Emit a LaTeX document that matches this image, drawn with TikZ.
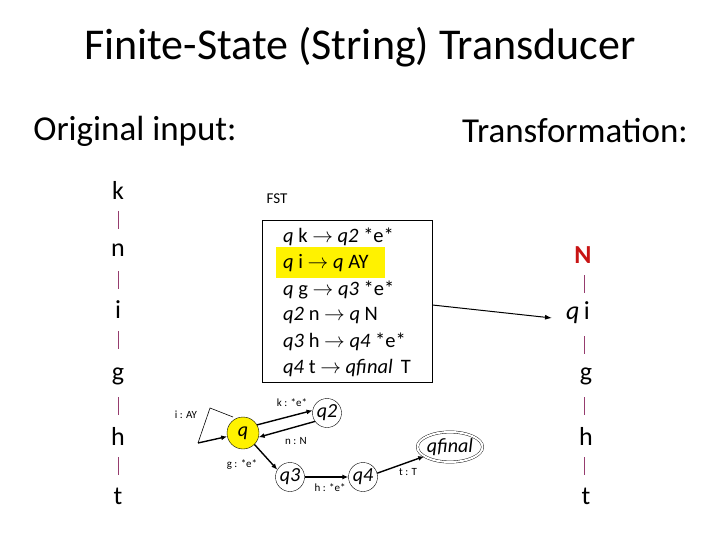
\documentclass[tikz,border=0pt]{standalone}
\usepackage{fontspec}
\setmainfont{Carlito}
\usetikzlibrary{arrows.meta,shapes.geometric}
\definecolor{hl}{RGB}{255,242,0}
\definecolor{barc}{RGB}{150,60,110}
\definecolor{nred}{RGB}{200,20,20}
\begin{document}
\begin{tikzpicture}[x=1pt,y=-1pt,
  lt/.style={font=\fontsize{26}{28}\selectfont},
  rule/.style={font=\fontsize{20.5}{22}\selectfont,anchor=west,inner sep=0},
  st/.style={draw,circle,minimum size=29pt,inner sep=0,font=\fontsize{20}{20}\selectfont\itshape},
  lab/.style={font=\fontsize{11}{12}\selectfont},
  ar/.style={-{Latex[length=6pt,width=5pt]},line width=1.4pt},
  bar/.style={barc,line width=0.6pt}]
\useasboundingbox (0,0) rectangle (720,540);
\node (title) at (360,47) {\fontsize{44}{48}\selectfont Finite-State (String) Transducer};
\node (orig) at (135,131) {\fontsize{35}{40}\selectfont Original input:};
\node (trans) at (575,131) {\fontsize{35}{40}\selectfont Transformation:};
% left column
\foreach \t/\y/\n in {k/190/l1,n/250/l2,i/310/l3,g/376/l4,h/436/l5,t/496/l6}
  \node[lt] (\n) at (118,\y) {\t};
\foreach \y in {220,280,340,406,466} \draw[bar] (118,\y-9) -- (118,\y+9);
% right column
\node[lt,text=nred,font=\fontsize{26}{28}\selectfont\bfseries] (r1) at (583,255) {N};
\node[lt] (r2) at (578,313) {\textit{q}\,i};
\node[lt] (r3) at (586,376) {g};
\node[lt] (r4) at (586,436) {h};
\node[lt] (r5) at (586,496) {t};
\foreach \y in {284,345,406,466} \draw[bar] (584,\y-9) -- (584,\y+9);
% FST box
\node[font=\fontsize{15}{16}\selectfont] (fst) at (277,199) {FST};
\fill[hl] (276,247) rectangle (385,278);
\node[draw,minimum width=170pt,minimum height=162pt,line width=0.8pt] (box) at (347,301) {};
\node[rule] (r1l) at (283,237) {\textit{q} k $\rightarrow$ \textit{q2} *e*};
\node[rule] (r2l) at (283,263) {\textit{q} i $\rightarrow$ \textit{q} AY};
\node[rule] (r3l) at (283,290) {\textit{q} g $\rightarrow$ \textit{q3} *e*};
\node[rule] (r4l) at (283,316) {\textit{q2} n $\rightarrow$ \textit{q} N};
\node[rule] (r5l) at (283,342) {\textit{q3} h $\rightarrow$ \textit{q4} *e*};
\node[rule] (r6l) at (283,368) {\textit{q4} t $\rightarrow$ \textit{qfinal}\, T};
\coordinate (tip) at (552,318);
\draw[-{Latex[length=7pt,width=5pt]},line width=1pt] (box.east |- 0,305) -- (tip);
% automaton
\node[st,fill=hl,minimum size=32pt] (q) at (243,433) {q};
\node[st] (q2) at (327,413) {q2};
\node[st] (q3) at (290,477) {q3};
\node[st] (q4) at (363,477) {q4};
\node[draw,ellipse,minimum width=58pt,minimum height=30pt,inner sep=0,double,double distance=2pt,font=\fontsize{20}{20}\selectfont\itshape] (qf) at (450,447) {qfinal};
\coordinate (t1) at (198,443);
\coordinate (t2) at (210,408);
\coordinate (t3) at (233,417);
\draw[line width=0.6pt] (t1) -- (t2) -- (t3);
\draw[ar] (t1) -- (q);
\draw[ar] (q.30) -- (q2.170);
\draw[ar] (q2.215) -- (q.-15);
\draw[ar] (q.-45) -- (q3.150);
\draw[ar] (q3) -- (q4);
\draw[ar] (q4.15) -- (qf.200);
\node[lab] (li) at (186,415) {i : AY};
\node[lab] (lk) at (292,403) {k : *e*};
\node[lab] (ln) at (296,441) {n : N};
\node[lab] (lg) at (242,465) {g : *e*};
\node[lab] (lhh) at (330,488) {h : *e*};
\node[lab] (ltt) at (408,472) {t : T};
\end{tikzpicture}
\end{document}
